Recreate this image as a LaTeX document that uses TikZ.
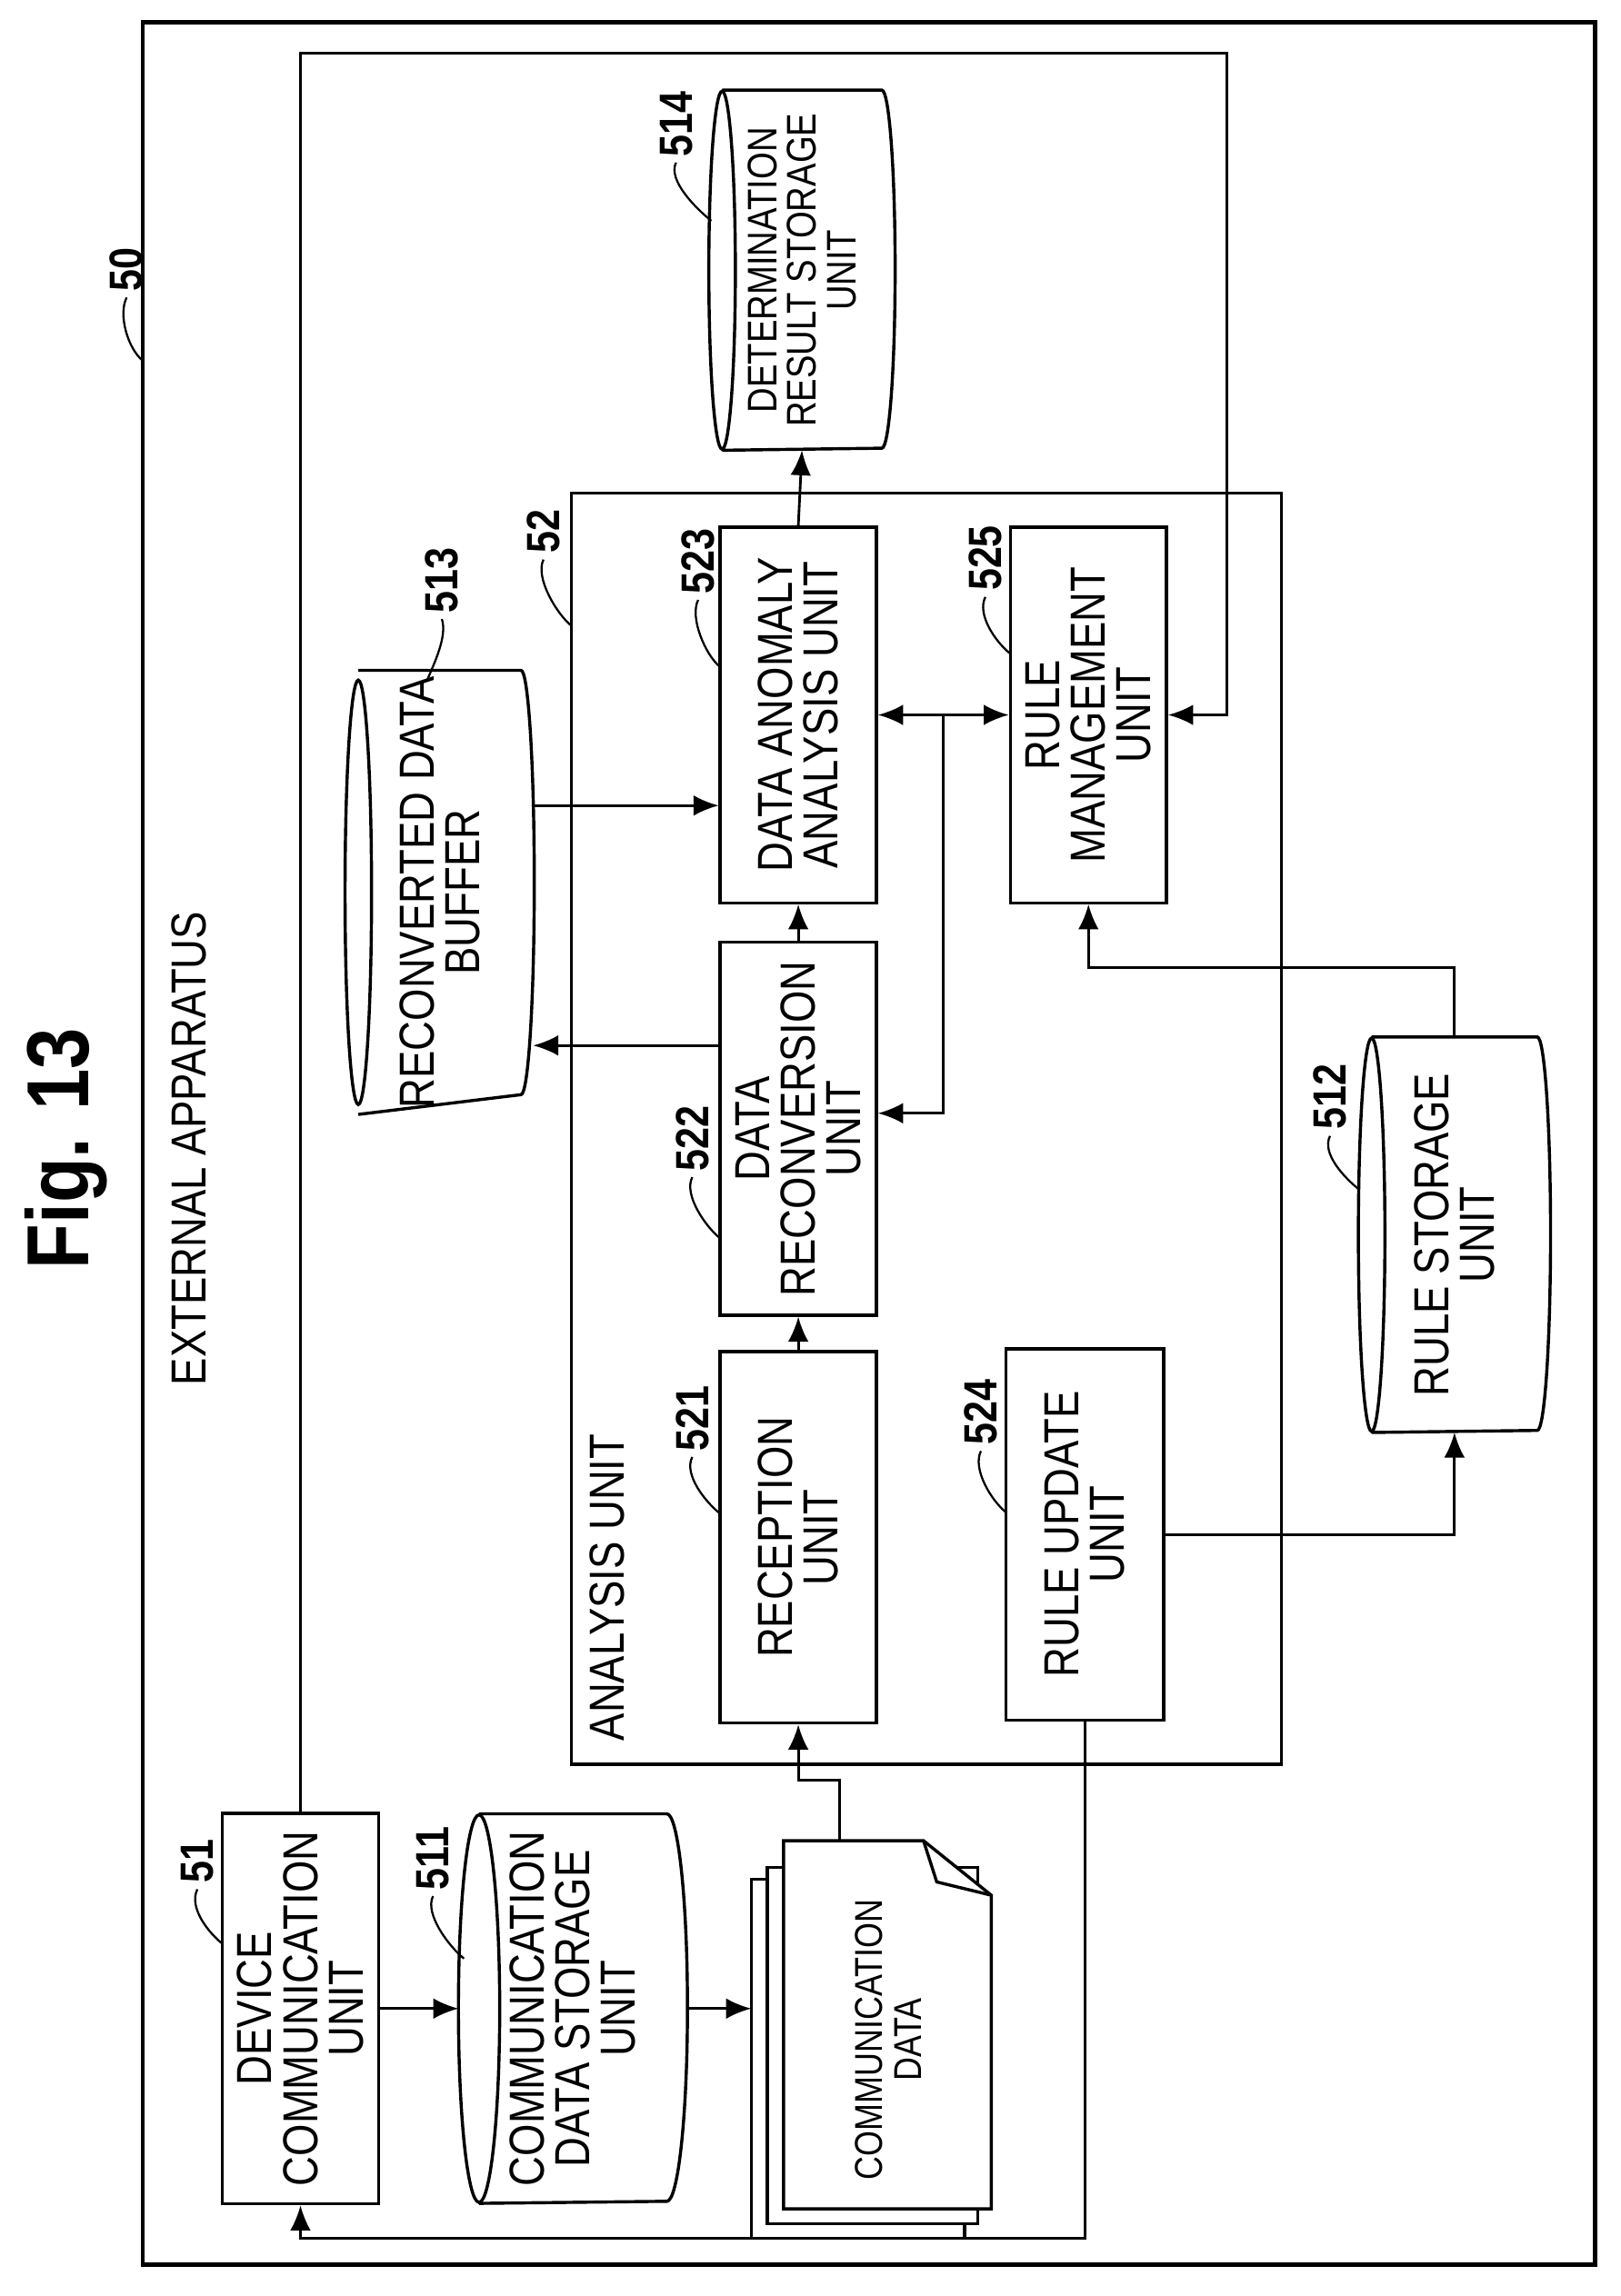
\documentclass[tikz,border=0pt]{standalone}
\usepackage{fontspec}
\setsansfont{Liberation Sans}[FakeStretch=0.84]
\renewcommand{\familydefault}{\sfdefault}
\usetikzlibrary{arrows.meta,calc}

% outline of a storage cylinder around a (rotated) node
\newcommand{\storeoutline}[3]{%
  \draw[line width=0.6pt] (#1.north east) -- (#1.south east)
    arc[start angle=90,end angle=-90,x radius=#2,y radius=#3] -- (#1.north west);
  \draw[line width=0.6pt] (#1.north) ellipse[x radius=#2,y radius=#3];}

\begin{document}
\begin{tikzpicture}[x=0.01cm,y=-0.01cm,
  unit/.style={draw,line width=0.6pt,rotate=90,align=center,inner sep=1pt,
    font=\fontsize{9.5}{8.8}\selectfont},
  store/.style={rotate=90,align=center,inner sep=1pt,
    font=\fontsize{9.5}{8.8}\selectfont},
  refnum/.style={rotate=90,inner sep=1pt,font=\fontsize{9}{9}\selectfont\bfseries},
  lead/.style={line width=0.4pt},
  flow/.style={line width=0.5pt,-{Latex[length=1.7mm,width=1.4mm]}},
  link/.style={line width=0.5pt}]
\useasboundingbox (0,0) rectangle (1100,1559.2);

% Titles
\node[rotate=90,font=\fontsize{17}{17}\selectfont\bfseries] (fig) at (45,780) {Fig. 13};
\node[rotate=90,font=\fontsize{9.5}{10}\selectfont] (ext) at (128,780) {EXTERNAL APPARATUS};

% Frames
\draw[line width=0.8pt] (97,15) rectangle (1083,1538);
\draw[line width=0.6pt] (388,335) rectangle (870,1198);
\node[rotate=90,font=\fontsize{9.5}{10}\selectfont] (ana) at (412,1078) {ANALYSIS UNIT};

% Units
\node[unit,minimum width=2.65cm,minimum height=1.06cm] (dcu) at (204,1364) {DEVICE\\COMMUNICATION\\UNIT};
\node[unit,minimum width=2.52cm,minimum height=1.06cm] (rcv) at (542,1044) {RECEPTION\\UNIT};
\node[unit,minimum width=2.53cm,minimum height=1.06cm] (rcn) at (542,766.5) {DATA\\RECONVERSION\\UNIT};
\node[unit,minimum width=2.55cm,minimum height=1.06cm] (daa) at (542,485.5) {DATA ANOMALY\\ANALYSIS UNIT};
\node[unit,minimum width=2.52cm,minimum height=1.07cm] (rud) at (736.5,1042) {RULE UPDATE\\UNIT};
\node[unit,minimum width=2.55cm,minimum height=1.06cm] (rmu) at (739,485.5) {RULE\\MANAGEMENT\\UNIT};

% Storages
\node[store,minimum width=2.63cm,minimum height=1.26cm] (cds) at (389,1364) {COMMUNICATION\\DATA STORAGE\\UNIT};
\storeoutline{cds}{0.14cm}{1.315cm}
\node[store,minimum width=2.88cm,minimum height=1.09cm] (rdb) at (298.5,606) {RECONVERTED DATA\\BUFFER};
\storeoutline{rdb}{0.09cm}{1.44cm}
\node[store,minimum width=2.43cm,minimum height=1.07cm,font=\fontsize{8}{7.6}\selectfont] (drs) at (544.5,183.5) {DETERMINATION\\RESULT STORAGE\\UNIT};
\storeoutline{drs}{0.09cm}{1.215cm}
\node[store,minimum width=2.67cm,minimum height=1.11cm] (rst) at (987.5,838.5) {RULE STORAGE\\UNIT};
\storeoutline{rst}{0.09cm}{1.335cm}

% Communication data (stack of sheets)
\draw[line width=0.6pt,fill=white] (510,1276) rectangle (655,1520);
\draw[line width=0.6pt,fill=white] (521,1268) rectangle (664,1510);
\draw[line width=0.6pt,fill=white] (532,1250) -- (627,1250) -- (673,1287) -- (673,1500) -- (532,1500) -- cycle;
\draw[line width=0.6pt] (627,1250) -- (636,1278) -- (673,1287);
\node[store,font=\fontsize{7.5}{7.5}\selectfont] (cmd) at (603,1385) {COMMUNICATION\\DATA};
\coordinate (docin) at (510,1364);
\coordinate (docout) at (570,1250);

% Reference numbers
\node[refnum] (l50) at (86,183) {50};
\draw[lead] (l50.west) .. controls +(-6,12) and +(-10,-8) .. (97,245);
\node[refnum] (l51) at (134,1264) {51};
\draw[lead] (l51.west) .. controls +(-6,12) and +(-10,-8) .. (151,1320);
\node[refnum] (l511) at (294,1262) {511};
\draw[lead] (l511.west) .. controls +(-6,12) and +(-10,-8) .. (315,1330);
\node[refnum] (l514) at (459,84) {514};
\draw[lead] (l514.west) .. controls +(-6,12) and +(-10,-8) .. (483,150);
\node[refnum] (l513) at (300,394) {513};
\draw[lead] (l513.west) .. controls +(4,12) and +(4,-10) .. (290,462);
\node[refnum] (l52) at (369,361) {52};
\draw[lead] (l52.west) .. controls +(-6,12) and +(-10,-8) .. (388,425);
\node[refnum] (l523) at (474,381) {523};
\draw[lead] (l523.west) .. controls +(-6,12) and +(-10,-8) .. (489,453);
\node[refnum] (l525) at (669,379) {525};
\draw[lead] (l525.west) .. controls +(-6,12) and +(-10,-8) .. (686,444);
\node[refnum] (l522) at (470,773) {522};
\draw[lead] (l522.west) .. controls +(-6,12) and +(-10,-8) .. (489,841);
\node[refnum] (l521) at (470,963) {521};
\draw[lead] (l521.west) .. controls +(-6,12) and +(-10,-8) .. (489,1028);
\node[refnum] (l524) at (666,959) {524};
\draw[lead] (l524.west) .. controls +(-6,12) and +(-10,-8) .. (683,1027);
\node[refnum] (l512) at (903,745) {512};
\draw[lead] (l512.west) .. controls +(-6,12) and +(-10,-8) .. (923,808);

% Connectors
\draw[flow] (dcu.south) -- ([xshift=-1.4mm]cds.north);
\draw[flow] ([xshift=1.4mm]cds.south) -- (docin);
\draw[flow] (docout) -- ++(0,-41) -| (rcv.west);
\draw[flow] (rcv.east) -- (rcn.west);
\draw[flow] (rcn.east) -- (daa.west);
\draw[flow] ([yshift=5.65mm]rcn.north) -- ([yshift=5.65mm]rcn.north -| 362,0);
\coordinate (inA) at ([yshift=-6.15mm]daa.north);
\draw[flow] ([xshift=0.9mm]rdb.south |- inA) -- (inA);
\draw[flow] (daa.east) -- (drs.west);
\draw[flow,{Latex[length=1.7mm,width=1.4mm]}-{Latex[length=1.7mm,width=1.4mm]}] (daa.south) -- (rmu.north);
\coordinate (br) at ($(daa.south)!.5!(rmu.north)$);
\draw[flow] (br) |- ([yshift=1.05mm]rcn.south);
\draw[flow] (rst.east) -- ++(0,-47) -| (rmu.west);
\draw[flow] (rud.south) -| (rst.west);
\draw[flow] (dcu.east) |- (833,36) |- (rmu.south);
\draw[flow] (rud.west) |- (300,1520) -| (dcu.west);
\end{tikzpicture}
\end{document}
